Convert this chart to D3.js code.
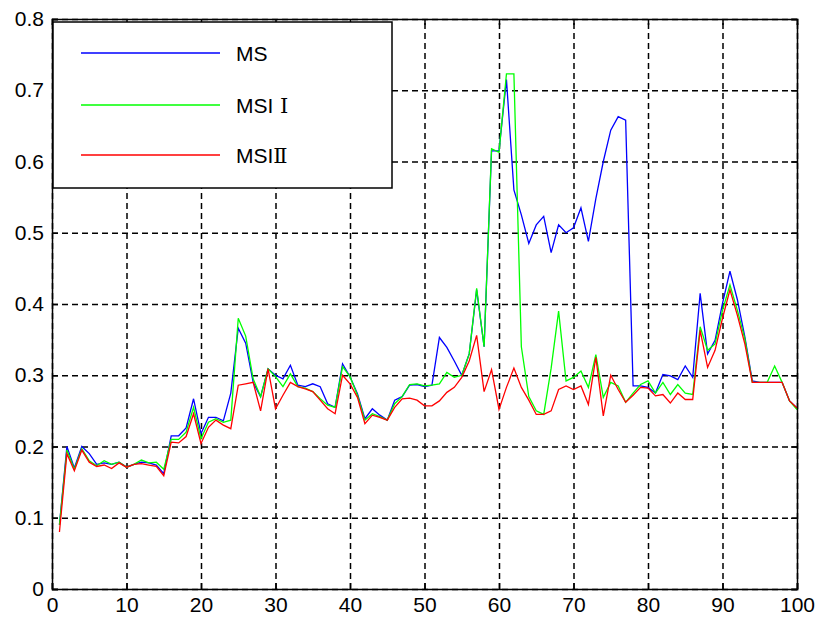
<html>
<head>
<script src="https://d3js.org/d3.v7.min.js"></script>
<style>
  body { margin: 0; background: #fff; }
  svg { display: block; font-family: 'Liberation Sans', Arial, sans-serif; }
</style>
</head>
<body>
<svg width="816" height="618"></svg>
<script>
  // values, one per step x = 1..100
  var msValues = [
    0.09, 0.20, 0.17, 0.20, 0.19, 0.175, 0.177, 0.175, 0.178, 0.171,
    0.175, 0.178, 0.177, 0.174, 0.162, 0.215, 0.215, 0.226, 0.267, 0.218,
    0.241, 0.241, 0.236, 0.275, 0.366, 0.345, 0.29, 0.27, 0.309, 0.30,
    0.295, 0.314, 0.286, 0.284, 0.288, 0.284, 0.26, 0.255, 0.316, 0.298,
    0.274, 0.239, 0.253, 0.244, 0.237, 0.265, 0.27, 0.286, 0.287, 0.284,
    0.286, 0.353, 0.339, 0.32, 0.30, 0.33, 0.42, 0.34, 0.615, 0.615,
    0.715, 0.56, 0.525, 0.485, 0.511, 0.523, 0.472, 0.511, 0.50, 0.507,
    0.535, 0.488, 0.548, 0.60, 0.644, 0.663, 0.658, 0.285, 0.285, 0.283,
    0.275, 0.301, 0.299, 0.294, 0.313, 0.297, 0.415, 0.33, 0.349, 0.401,
    0.446, 0.406, 0.354, 0.292, 0.29, 0.29, 0.29, 0.29, 0.264, 0.254
  ];
  var msi1Values = [
    0.09, 0.195, 0.168, 0.197, 0.18, 0.173, 0.18, 0.175, 0.178, 0.171,
    0.175, 0.181, 0.177, 0.178, 0.168, 0.21, 0.21, 0.22, 0.255, 0.211,
    0.234, 0.239, 0.234, 0.237, 0.38, 0.355, 0.295, 0.27, 0.309, 0.298,
    0.284, 0.302, 0.284, 0.282, 0.277, 0.267, 0.258, 0.255, 0.312, 0.298,
    0.272, 0.237, 0.246, 0.242, 0.237, 0.26, 0.27, 0.287, 0.288, 0.285,
    0.286, 0.288, 0.304, 0.297, 0.30, 0.33, 0.422, 0.34, 0.618, 0.613,
    0.723, 0.723, 0.34, 0.27, 0.25, 0.245, 0.31, 0.39, 0.292, 0.297,
    0.306, 0.283, 0.329, 0.269, 0.29, 0.285, 0.262, 0.275, 0.287, 0.292,
    0.275, 0.29, 0.273, 0.287, 0.275, 0.273, 0.368, 0.335, 0.344, 0.391,
    0.427, 0.391, 0.351, 0.29, 0.29, 0.29, 0.313, 0.29, 0.264, 0.252
  ];
  var msi2Values = [
    0.08, 0.19, 0.166, 0.195, 0.178, 0.172, 0.174, 0.169, 0.177, 0.171,
    0.175, 0.176, 0.174, 0.172, 0.159, 0.206, 0.205, 0.214, 0.246, 0.204,
    0.227, 0.237, 0.23, 0.225, 0.286, 0.288, 0.29, 0.25, 0.309, 0.253,
    0.272, 0.29, 0.284, 0.281, 0.277, 0.265, 0.253, 0.246, 0.30, 0.288,
    0.269, 0.232, 0.244, 0.241, 0.237, 0.255, 0.267, 0.268, 0.265, 0.257,
    0.257, 0.264, 0.276, 0.283, 0.297, 0.32, 0.356, 0.277, 0.308, 0.252,
    0.283, 0.31, 0.283, 0.265, 0.245, 0.245, 0.25, 0.28, 0.285, 0.28,
    0.285, 0.259, 0.325, 0.243, 0.30, 0.28, 0.262, 0.272, 0.283, 0.282,
    0.271, 0.273, 0.261, 0.275, 0.266, 0.266, 0.363, 0.311, 0.335, 0.38,
    0.42, 0.384, 0.344, 0.29, 0.29, 0.29, 0.29, 0.29, 0.264, 0.254
  ];
  var seriesNames = ["MS", "MSI", "MSI"];
  var seriesNumerals = ["", " Ⅰ", "Ⅱ"];
  var seriesColors = ["#0000ff", "#00ff00", "#ff0000"];
  var xTicks = [0, 10, 20, 30, 40, 50, 60, 70, 80, 90, 100];
  var yTicks = [0, 0.1, 0.2, 0.3, 0.4, 0.5, 0.6, 0.7, 0.8];

  var svg = d3.select("svg");
  var width = +svg.attr("width");
  var height = +svg.attr("height");
  var plotLeft = 52, plotRight = 797, plotTop = 19, plotBottom = 589;

  var x = d3.scaleLinear().domain([0, 100]).range([plotLeft, plotRight]);
  var y = d3.scaleLinear().domain([0, 0.8]).range([plotBottom, plotTop]);

  svg.append("rect").attr("width", width).attr("height", height).attr("fill", "#fff");

  // dashed grid
  svg.append("g")
    .attr("class", "grid")
    .attr("transform", "translate(0," + plotBottom + ")")
    .call(d3.axisBottom(x).tickValues(xTicks).tickSize(-(plotBottom - plotTop)).tickFormat(""));
  svg.append("g")
    .attr("class", "grid")
    .attr("transform", "translate(" + plotLeft + ",0)")
    .call(d3.axisLeft(y).tickValues(yTicks).tickSize(-(plotRight - plotLeft)).tickFormat(""));
  svg.selectAll(".grid .domain").remove();
  svg.selectAll(".grid line")
    .attr("stroke", "#000").attr("stroke-width", 1.5).attr("stroke-dasharray", "6,4");

  // lines
  var line = d3.line()
    .x(function(d, i) { return x(i + 1); })
    .y(function(d) { return y(d); });

  [msValues, msi1Values, msi2Values].forEach(function(vals, k) {
    svg.append("path")
      .datum(vals)
      .attr("d", line)
      .attr("fill", "none")
      .attr("stroke", seriesColors[k])
      .attr("stroke-width", 1.3);
  });

  // axes with inward ticks on all four sides
  var tick = 6;
  svg.append("g")
    .attr("class", "axis")
    .attr("transform", "translate(0," + plotBottom + ")")
    .call(d3.axisBottom(x).tickValues(xTicks).tickSize(-tick).tickPadding(8).tickFormat(function(d) { return d; }));
  svg.append("g")
    .attr("class", "axis")
    .attr("transform", "translate(" + plotLeft + ",0)")
    .call(d3.axisLeft(y).tickValues(yTicks).tickSize(-tick).tickPadding(8).tickFormat(function(d) { return d; }));
  svg.append("g")
    .attr("class", "axis")
    .attr("transform", "translate(0," + plotTop + ")")
    .call(d3.axisTop(x).tickValues(xTicks).tickSize(-tick).tickFormat(""));
  svg.append("g")
    .attr("class", "axis")
    .attr("transform", "translate(" + plotRight + ",0)")
    .call(d3.axisRight(y).tickValues(yTicks).tickSize(-tick).tickFormat(""));

  svg.selectAll(".axis .domain").attr("stroke", "#000").attr("stroke-width", 1.5);
  svg.selectAll(".axis .tick line").attr("stroke", "#000").attr("stroke-width", 1.5);
  svg.selectAll(".axis .tick text")
    .attr("font-family", "'Liberation Sans', Arial, sans-serif")
    .attr("font-size", 21)
    .attr("fill", "#000");

  // legend
  var legend = svg.append("g");
  legend.append("rect")
    .attr("x", 53).attr("y", 22).attr("width", 339).attr("height", 166)
    .attr("fill", "#fff").attr("stroke", "#000").attr("stroke-width", 1.5);
  var legendY = [53, 105, 155];
  seriesNames.forEach(function(name, k) {
    legend.append("line")
      .attr("x1", 81).attr("x2", 220)
      .attr("y1", legendY[k]).attr("y2", legendY[k])
      .attr("stroke", seriesColors[k]).attr("stroke-width", 1.3);
    var t = legend.append("text")
      .attr("x", 236).attr("y", legendY[k] + 8)
      .attr("font-size", 21)
      .text(name);
    if (seriesNumerals[k]) {
      t.append("tspan")
        .attr("font-family", "'DejaVu Serif', 'Liberation Serif', serif")
        .style("white-space", "pre")
        .text(seriesNumerals[k]);
    }
  });
</script>
</body>
</html>
